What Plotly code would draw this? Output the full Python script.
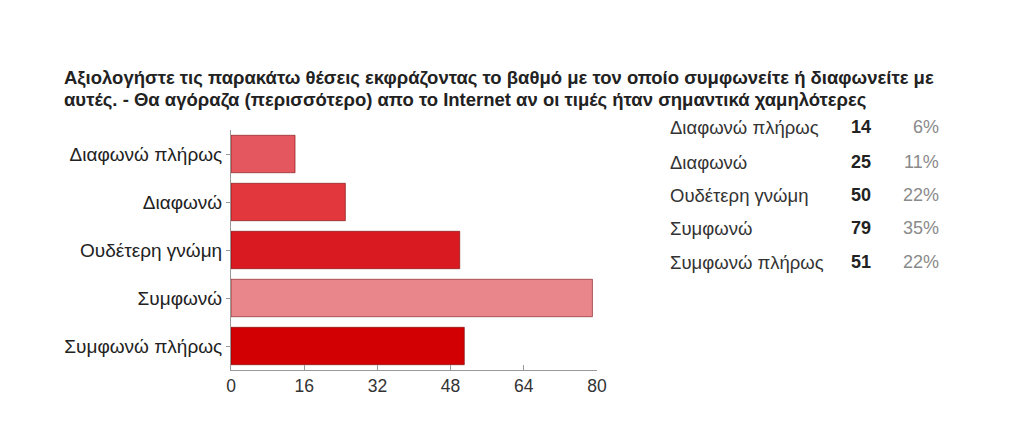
import plotly.graph_objects as go

categories = ["Διαφωνώ πλήρως", "Διαφωνώ", "Ουδέτερη γνώμη", "Συμφωνώ", "Συμφωνώ πλήρως"]
counts = [14, 25, 50, 79, 51]
percents = ["6%", "11%", "22%", "35%", "22%"]
bar_colors = ["#E5575E", "#E1373D", "#D91B21", "#E8868B", "#D30003"]
x_ticks = [0, 16, 32, 48, 64, 80]
title_lines = ["Αξιολογήστε τις παρακάτω θέσεις εκφράζοντας το βαθμό με τον οποίο συμφωνείτε ή διαφωνείτε με",
               "αυτές. - Θα αγόραζα (περισσότερο) απο το Internet αν οι τιμές ήταν σημαντικά χαμηλότερες"]

FONT = "Arial, Liberation Sans, sans-serif"
W, H = 1024, 446
L, R, T, B = 231, 597, 130, 370

fig = go.Figure(go.Bar(
    y=categories, x=counts, orientation="h",
    marker=dict(color=bar_colors, line=dict(color="rgba(110,0,0,0.55)", width=1)),
    width=0.78, hoverinfo="skip",
))

def px(p):
    return (p - L) / (R - L)

def py(p):
    return (B - p) / (B - T)

annotations = []
row_y = [127, 162, 195, 228, 262]
for i, cat in enumerate(categories):
    y = py(row_y[i])
    annotations.append(dict(x=px(668), y=y, xref="paper", yref="paper", text=cat, showarrow=False,
                            xanchor="left", yanchor="middle", font=dict(family=FONT, size=18.5, color="#333")))
    annotations.append(dict(x=px(873), y=y, xref="paper", yref="paper", text="<b>%d</b>" % counts[i], showarrow=False,
                            xanchor="right", yanchor="middle", font=dict(family=FONT, size=18, color="#222")))
    annotations.append(dict(x=px(941), y=y, xref="paper", yref="paper", text=percents[i], showarrow=False,
                            xanchor="right", yanchor="middle", font=dict(family=FONT, size=18, color="#8a8a8a")))

for j, (line, yy) in enumerate(zip(title_lines, [78, 100])):
    annotations.append(dict(x=px(62), y=py(yy), xref="paper", yref="paper", text="<b>" + line + "</b>",
                            showarrow=False, xanchor="left", yanchor="middle", align="left",
                            font=dict(family=FONT, size=18.5, color="#222")))

fig.update_layout(
    width=W, height=H,
    margin=dict(l=L, r=W - R, t=T, b=H - B, pad=0),
    paper_bgcolor="white", plot_bgcolor="white",
    showlegend=False,
    bargap=0.22,
    annotations=annotations,
    font=dict(family=FONT, size=18, color="#222"),
    xaxis=dict(range=[0, 80], tickvals=x_ticks, showgrid=False, zeroline=False,
               showline=True, linecolor="#999", linewidth=1,
               ticks="inside", ticklen=5, tickcolor="#999",
               tickfont=dict(family=FONT, size=17.5, color="#333")),
    yaxis=dict(autorange="reversed", showgrid=False, zeroline=False,
               showline=True, linecolor="#999", linewidth=1,
               ticks="outside", ticklen=4, tickcolor="#999",
               tickfont=dict(family=FONT, size=19, color="#222")),
)

fig.write_html("out.html")
